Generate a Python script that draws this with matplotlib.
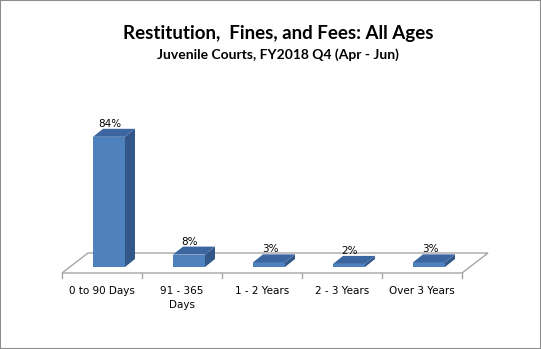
import matplotlib.pyplot as plt
from matplotlib.patches import Polygon, Rectangle

categories = ['0 to 90 Days', '91 - 365\nDays', '1 - 2 Years', '2 - 3 Years', 'Over 3 Years']
values = [84, 8, 3, 2, 3]
labels = ['84%', '8%', '3%', '2%', '3%']

W, H = 541, 349
fig = plt.figure(figsize=(W / 100, H / 100), dpi=100)
fig.patches.append(Rectangle((0, 0), 1, 1, transform=fig.transFigure,
                             fill=False, edgecolor='#8c8c8c', linewidth=1.5))

# axes: x in [-0.5, 4.5] -> px 62..462 ; y=0 at px 267, 1% = 1.55 px
px_per_x = 80.0
px_per_y = 1.55
y0_px = 267
ax = fig.add_axes([62 / W, (H - y0_px) / H, 400 / W, 100 * px_per_y / H])
ax.set_xlim(-0.5, 4.5)
ax.set_ylim(0, 100)
ax.axis('off')

# floor (depth offset in data units)
fdx = 26 / px_per_x
fdy = 20 / px_per_y
fy = -6 / px_per_y
floor = Polygon([(-0.5, fy), (4.5, fy), (4.5 + fdx, fy + fdy), (-0.5 + fdx, fy + fdy)],
                closed=True, facecolor='white', edgecolor='#a6a6a6', linewidth=1,
                clip_on=False, zorder=1)
ax.add_patch(floor)

# ticks and category labels
for i in range(len(categories) + 1):
    ax.plot([i - 0.5, i - 0.5], [fy, fy - 5 / px_per_y], color='#a6a6a6',
            linewidth=1, clip_on=False, zorder=1)
for i, c in enumerate(categories):
    ax.text(i, fy - 13 / px_per_y, c, ha='center', va='top', fontsize=7.5,
            family='DejaVu Sans', linespacing=1.5)

# 3D bars
bw = 32 / px_per_x
off = 7 / px_per_x
bdx = 10 / px_per_x
bdy = 8 / px_per_y
front_c = '#4f81bd'
side_c = '#34578a'
top_c = '#3c66a0'
xs = [i + off for i in range(len(values))]
ax.bar(xs, values, width=bw, color=front_c, zorder=3, clip_on=False)
for x, v, lab in zip(xs, values, labels):
    xl, xr = x - bw / 2, x + bw / 2
    ax.add_patch(Polygon([(xr, 0), (xr, v), (xr + bdx, v + bdy), (xr + bdx, bdy)],
                         closed=True, facecolor=side_c, edgecolor='none',
                         zorder=3, clip_on=False))
    ax.add_patch(Polygon([(xl, v), (xr, v), (xr + bdx, v + bdy), (xl + bdx, v + bdy)],
                         closed=True, facecolor=top_c, edgecolor='none',
                         zorder=3, clip_on=False))
    ax.text(x + 1 / px_per_x, v + bdy, lab, ha='center', va='bottom',
            fontsize=7.5, family='DejaVu Sans', zorder=4, clip_on=False)

fig.text(278 / W, 1 - 34 / H, 'Restitution,  Fines, and Fees: All Ages', ha='center',
         va='center', fontsize=13.5, fontweight='bold', family='Lato')
fig.text(278 / W, 1 - 55 / H, 'Juvenile Courts, FY2018 Q4 (Apr - Jun)', ha='center',
         va='center', fontsize=10, fontweight='bold', family='Lato')

fig.savefig('out.png', dpi=100)
